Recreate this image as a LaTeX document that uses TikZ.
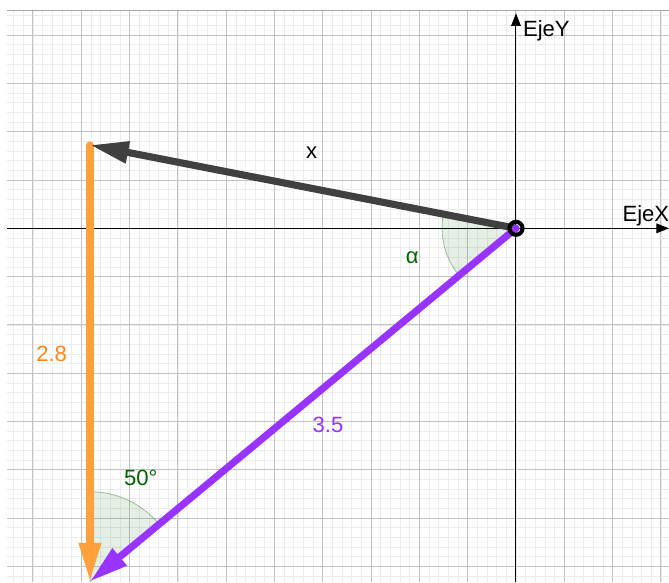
\documentclass[tikz,border=0pt]{standalone}
\usepackage{fontspec}
\setmainfont{Liberation Sans}
\usetikzlibrary{arrows.meta}
\definecolor{ggvec}{RGB}{64,64,64}
\definecolor{ggorange}{RGB}{255,160,60}
\definecolor{ggorangetxt}{RGB}{255,136,20}
\definecolor{ggpurple}{RGB}{153,51,255}
\definecolor{gggreen}{RGB}{0,100,0}
\definecolor{ggmajor}{RGB}{195,195,195}
\definecolor{ggminor}{RGB}{236,236,236}
\tikzset{
  minorgrid/.style={draw=ggminor,line width=0.4pt},
  majorgrid/.style={draw=ggmajor,line width=0.6pt},
  axis/.style={-{Triangle[length=2.6mm,width=2mm]},draw=black,line width=0.6pt},
  vec/.style={-{Triangle[length=8mm,width=4.3mm]},line width=4.2pt,line cap=round},
  anglefill/.style={fill=gggreen,fill opacity=0.1,draw=gggreen,draw opacity=0.35,line width=0.5pt},
  lab/.style={font=\fontsize{13}{15}\selectfont,inner sep=0pt},
}
\begin{document}
\begin{tikzpicture}
% frame
\fill[white] (-10.683,-7.3235) rectangle (3.168,4.727);
\useasboundingbox (-10.683,-7.3235) rectangle (3.168,4.727);
% grid
\draw[minorgrid] (-10.54,-7.33) grid[step=0.2] (3.17,4.505);
\draw[majorgrid] (-10.54,-7.33) grid[step=1] (3.17,4.505);
\draw[draw=gray!70,line width=0.6pt] (-10.54,4.505) -- (3.17,4.505);
% axes
\coordinate (xs) at (-10.54,0);
\coordinate (xe) at (3.168,0);
\coordinate (ys) at (0,-7.33);
\coordinate (ye) at (0,4.45);
\draw[axis] (xs) -- (xe);
\draw[axis] (ys) -- (ye);
\node[lab,anchor=west] (ejex) at (2.2,0.265) {EjeX};
\node[lab,anchor=west] (ejey) at (0.14,4.085) {EjeY};
% points
\coordinate (O) at (0,0);
\coordinate (Q) at (-8.82,1.725);
\coordinate (P) at (-8.82,-7.313);
% angles
\draw[anglefill] (O) -- ++(168.93:1.53) arc[start angle=168.93,end angle=219.66,radius=1.53] -- cycle;
\draw[anglefill] (P) -- ++(39.66:1.86) arc[start angle=39.66,end angle=90,radius=1.86] -- cycle;
% vectors
\draw[vec,draw=ggorange,fill=ggorange] (Q) -- (P);
\draw[vec,draw=ggvec,fill=ggvec] (O) -- (Q);
\draw[vec,draw=ggpurple,fill=ggpurple] (O) -- (P);
\draw[black,line width=2.4pt] (O) circle[radius=0.135];
% labels
\node[lab] (lx) at (-4.23,1.573) {x};
\node[lab,text=gggreen] (lalpha) at (-2.147,-0.60) {α};
\node[lab,text=ggorangetxt] (l28) at (-9.613,-2.609) {2.8};
\node[lab,text=ggpurple] (l35) at (-3.892,-4.068) {3.5};
\node[lab,text=gggreen] (l50) at (-7.77,-5.164) {50°};
\end{tikzpicture}
\end{document}
